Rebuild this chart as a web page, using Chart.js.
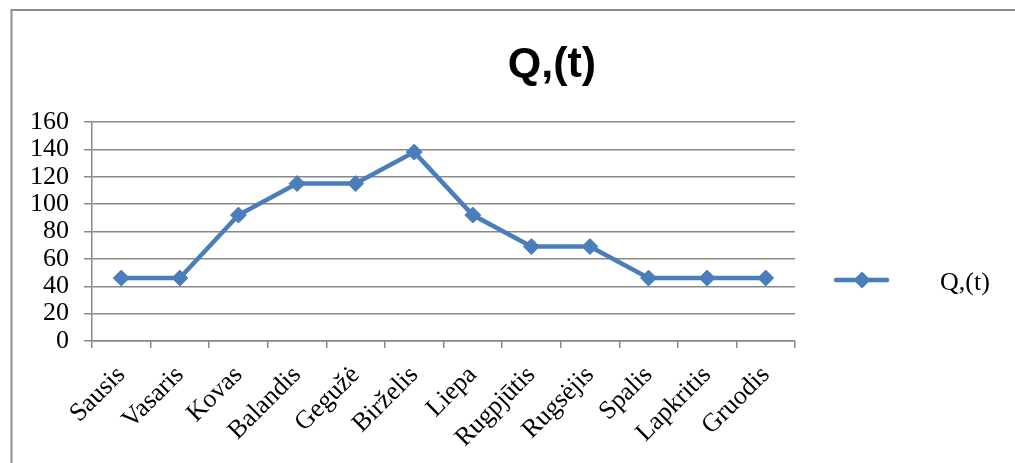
<!DOCTYPE html>
<html>
<head>
<meta charset="utf-8">
<script src="https://cdn.jsdelivr.net/npm/chart.js@4/dist/chart.umd.min.js"></script>
<style>
  html, body { margin: 0; padding: 0; background: #fff; }
  #wrap { position: relative; width: 1015px; height: 463px; }
</style>
</head>
<body>
<div id="wrap"><canvas id="c" width="1015" height="463"></canvas></div>
<script>
// Duomenys
const menesiai = ["Sausis", "Vasaris", "Kovas", "Balandis", "Gegužė", "Birželis",
                  "Liepa", "Rugpjūtis", "Rugsėjis", "Spalis", "Lapkritis", "Gruodis"];
const qReiksmes = [46, 46, 92, 115, 115, 138, 92, 69, 69, 46, 46, 46];
const serijosPavadinimas = "Q,(t)";
const antraste = "Q,(t)";

const melyna = "#4a7ebb";
const pilka = "#888888";
const serif = "'Liberation Serif', 'Times New Roman', serif";

// Rėmelis, antraštė ir legenda
const papildomai = {
  id: "papildomai",
  afterDraw(chart) {
    const ctx = chart.ctx;
    ctx.save();

    // rėmelis aplink diagramą
    ctx.strokeStyle = "#8c8c8c";
    ctx.lineWidth = 2;
    ctx.beginPath();
    ctx.moveTo(11.5, 470);
    ctx.lineTo(11.5, 10);
    ctx.lineTo(1020, 10);
    ctx.stroke();

    // antraštė
    ctx.fillStyle = "#000";
    ctx.font = "bold 43px 'Liberation Sans', Arial, sans-serif";
    ctx.textAlign = "center";
    ctx.textBaseline = "middle";
    ctx.fillText(antraste, 552, 65);

    // legenda
    const ds = chart.data.datasets[0];
    ctx.strokeStyle = ds.borderColor;
    ctx.lineWidth = ds.borderWidth;
    ctx.lineCap = "round";
    ctx.beginPath();
    ctx.moveTo(836, 280);
    ctx.lineTo(887, 280);
    ctx.stroke();
    ctx.fillStyle = ds.pointBackgroundColor;
    const r = ds.pointRadius + 0.5;
    ctx.beginPath();
    ctx.moveTo(862 - r, 280);
    ctx.lineTo(862, 280 - r);
    ctx.lineTo(862 + r, 280);
    ctx.lineTo(862, 280 + r);
    ctx.closePath();
    ctx.fill();

    ctx.fillStyle = "#000";
    ctx.font = "26px " + serif;
    ctx.textAlign = "left";
    ctx.fillText(ds.label, 940, 283);
    ctx.restore();
  }
};

new Chart(document.getElementById("c"), {
  type: "line",
  data: {
    labels: menesiai,
    datasets: [{
      label: serijosPavadinimas,
      data: qReiksmes,
      borderColor: melyna,
      backgroundColor: melyna,
      borderWidth: 4.5,
      pointStyle: "rectRot",
      pointRadius: 8,
      pointBorderWidth: 1,
      pointBackgroundColor: melyna,
      pointBorderColor: melyna,
      tension: 0
    }]
  },
  options: {
    responsive: false,
    animation: false,
    layout: { padding: { top: 122, left: 0, right: 220, bottom: 0 } },
    plugins: {
      legend: { display: false },
      title: { display: false },
      tooltip: { enabled: false }
    },
    scales: {
      x: {
        offset: true,
        afterFit(scale) { scale.height = 122; },
        grid: {
          offset: true,
          drawOnChartArea: false,
          drawTicks: true,
          tickLength: 7,
          color: pilka,
          lineWidth: 1.5
        },
        border: { display: true, color: pilka, width: 1.5 },
        ticks: {
          minRotation: 45,
          maxRotation: 45,
          autoSkip: false,
          padding: 12,
          color: "#000",
          font: { family: serif, size: 26 }
        }
      },
      y: {
        min: 0,
        max: 160,
        afterFit(scale) { scale.width = 92; },
        grid: {
          color: pilka,
          lineWidth: 1.5,
          drawTicks: true,
          tickLength: 8
        },
        border: { display: true, color: pilka, width: 1.5 },
        ticks: {
          stepSize: 20,
          autoSkip: false,
          padding: 15,
          color: "#000",
          font: { family: serif, size: 26 }
        }
      }
    }
  },
  plugins: [papildomai]
});
</script>
</body>
</html>
